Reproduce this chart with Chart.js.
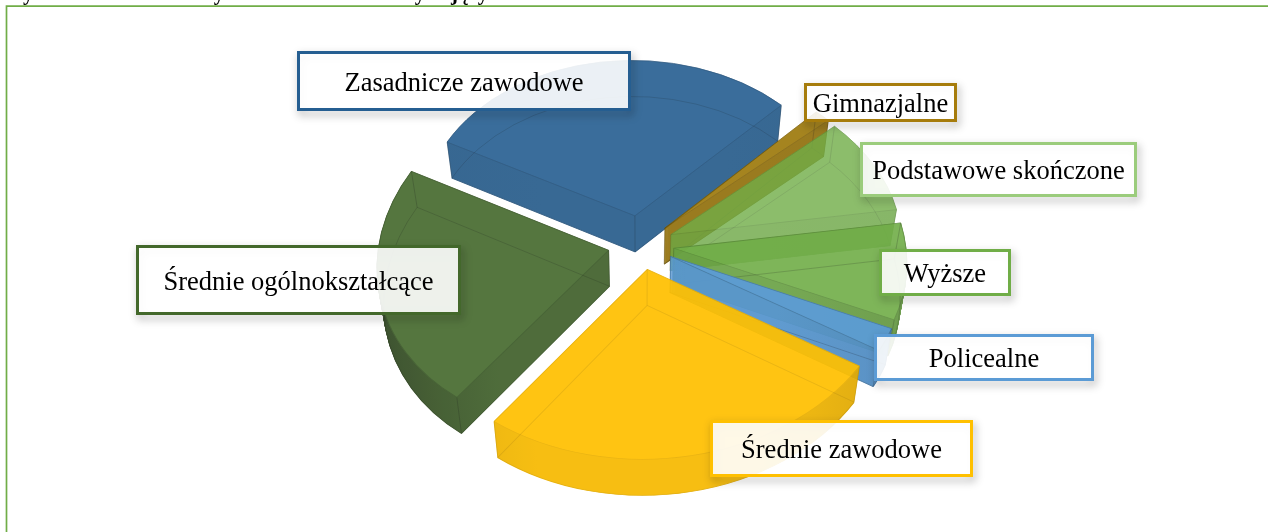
<!DOCTYPE html>
<html lang="pl">
<head>
<meta charset="utf-8">
<style>html,body{margin:0;padding:0;background:#fff;overflow:hidden}canvas{display:block}</style>
<script src="https://cdn.jsdelivr.net/npm/chart.js@4"></script>
</head>
<body>
<canvas id="c" width="1268" height="532"></canvas>
<script>
// ---- data ----
const categories = ["Zasadnicze zawodowe","Gimnazjalne","Podstawowe skończone","Wyższe","Policealne","Średnie zawodowe","Średnie ogólnokształcące"];
const shares = [29.5, 1.2, 9.15, 8.9, 2.1, 26.7, 22.4];
// ---- styles ----
const faceColors = ["#255e91","#997300","#70ad47","#70ad47","#5b9bd5","#ffc000","#43682b"];
const borderColors = ["#255e91","#a67c0c","#9bcc7c","#70ad47","#5b9bd5","#ffc000","#43682b"];
const faceAlpha = [0.9,0.88,0.8,0.9,0.95,0.93,0.9];
const wallTone = [0.95,0.92,0.97,0.93,0.97,0.97,0.9];
const wallEdgeTone = [0.93,0.9,0.95,0.85,0.9,0.86,0.62];
const lineAlpha = [0.2,0.2,0.14,0.2,0.2,0.09,0.2];
const explodeBy = [40,33,33,33,33,33,33];
const radiusBy = [0.96,1,1,1,1,1.015,1];
const paintOrder = [0,1,6,2,3,4,5];
const labelBoxes = [[297,51,334,60],[804,83,153,39],[860,142,277,55],[879,249,132,47],[874,334,220,47],[710,420,263,57],[136,245,325,70]];
const titleBits = [["W","ykształcenie",29],["osób młod","ych w ośrodku",219],["korz","ystających",420]];
const view = {cx:641, cy:245, k:0.747, D:3130, R:232, wall:36, shrink:0.025};

function project(x,y,z){
  const s = 1/(1-y/view.D);
  return [view.cx + x*s*(1-view.shrink*z), view.cy + y*view.k*s + view.wall*z];
}
function shade(hex,f){
  const n=parseInt(hex.slice(1),16);
  return `rgb(${((n>>16)&255)*f|0},${((n>>8)&255)*f|0},${(n&255)*f|0})`;
}
function sliceGeometry(arc,i){
  const mid=(arc.startAngle+arc.endAngle)/2, e=explodeBy[i], R=view.R*radiusBy[i];
  const ox=Math.cos(mid)*e, oy=Math.sin(mid)*e;
  return {pt:(a,z)=>a===null?project(ox,oy,z):project(ox+Math.cos(a)*R,oy+Math.sin(a)*R,z)};
}
function applyProjection(ctx,arc,geo,z){
  const r=arc.outerRadius,a0=arc.startAngle,a1=arc.endAngle;
  const T=geo.pt(null,z),A=geo.pt(a0,z),B=geo.pt(a1,z);
  const ux=Math.cos(a0)*r,uy=Math.sin(a0)*r,vx=Math.cos(a1)*r,vy=Math.sin(a1)*r;
  const det=ux*vy-vx*uy;
  const ax=A[0]-T[0],ay=A[1]-T[1],bx=B[0]-T[0],by=B[1]-T[1];
  const m11=(ax*vy-bx*uy)/det,m12=(bx*ux-ax*vx)/det,m21=(ay*vy-by*uy)/det,m22=(by*ux-ay*vx)/det;
  ctx.setTransform(m11,m21,m12,m22,T[0]-m11*arc.x-m12*arc.y,T[1]-m21*arc.x-m22*arc.y);
}
function drawWith(arc,ctx,over){
  const saved=arc.options;
  arc.options=Object.assign({},saved,over);
  arc.draw(ctx);
  arc.options=saved;
}

const pie3d = {
  id:'pie3d',
  beforeDatasetDraw(){ return false; },
  afterDatasetsDraw(chart){
    const main=chart.ctx, arcs=chart.getDatasetMeta(0).data;
    const off=document.createElement('canvas'); off.width=chart.width; off.height=chart.height;
    const c=off.getContext('2d');
    paintOrder.forEach(i=>{
      const arc=arcs[i], geo=sliceGeometry(arc,i), col=faceColors[i], r=arc.outerRadius;
      c.setTransform(1,0,0,1,0,0); c.clearRect(0,0,off.width,off.height);
      const g=c.createLinearGradient(arc.x-r,0,arc.x+r,0);
      g.addColorStop(0,shade(col,wallEdgeTone[i])); g.addColorStop(0.28,shade(col,wallTone[i]));
      g.addColorStop(0.72,shade(col,wallTone[i])); g.addColorStop(1,shade(col,wallEdgeTone[i]));
      for(let d=view.wall;d>0;d--){
        applyProjection(c,arc,geo,d/view.wall);
        drawWith(arc,c,{backgroundColor:g,borderColor:g,borderWidth:1.2});
      }
      const ln=`rgba(0,0,0,${lineAlpha[i]})`;
      applyProjection(c,arc,geo,0);
      drawWith(arc,c,{backgroundColor:col,borderColor:col,borderWidth:1});
      drawWith(arc,c,{backgroundColor:'rgba(0,0,0,0)',borderColor:ln,borderWidth:1});
      applyProjection(c,arc,geo,1);
      drawWith(arc,c,{backgroundColor:'rgba(0,0,0,0)',borderColor:ln,borderWidth:1});
      c.setTransform(1,0,0,1,0,0);
      c.strokeStyle=ln; c.lineWidth=1;
      [null,arc.startAngle,arc.endAngle].forEach(a=>{
        const p=geo.pt(a,0),q=geo.pt(a,1);
        c.beginPath(); c.moveTo(p[0],p[1]); c.lineTo(q[0],q[1]); c.stroke();
      });
      main.save(); main.globalAlpha=faceAlpha[i]; main.drawImage(off,0,0); main.restore();
    });
    // frame and clipped caption
    main.save();
    main.beginPath(); main.rect(0,0,chart.width,5.4); main.clip();
    main.fillStyle='#000'; main.font='bold 21px "Liberation Serif"'; main.textAlign='left'; main.textBaseline='alphabetic';
    titleBits.forEach(([head,tail,x])=>{
      const start=x-main.measureText(head).width-main.measureText('y').width/2;
      main.fillText(head+tail,start,-0.4);
    });
    main.restore();
    main.save();
    main.strokeStyle='#70ad47'; main.lineWidth=1.7;
    main.beginPath(); main.moveTo(6.5,chart.height+5); main.lineTo(6.5,6.2); main.lineTo(chart.width+5,6.2); main.stroke();
    main.restore();
    // labels
    categories.forEach((name,i)=>{
      const [x,y,w,h]=labelBoxes[i];
      main.save();
      main.shadowColor='rgba(0,0,0,0.38)'; main.shadowBlur=9; main.shadowOffsetX=2; main.shadowOffsetY=4;
      main.strokeStyle=borderColors[i]; main.lineWidth=3;
      main.strokeRect(x+1.5,y+1.5,w-3,h-3);
      main.shadowColor='transparent';
      main.fillStyle='rgba(255,255,255,0.9)';
      main.fillRect(x+3,y+3,w-6,h-6);
      main.fillStyle='#000'; main.font='26.5px "Liberation Serif"';
      main.textAlign='center'; main.textBaseline='middle';
      main.fillText(name,x+w/2,y+h/2+3);
      main.restore();
    });
  }
};

new Chart(document.getElementById('c'),{
  type:'pie',
  data:{labels:categories,datasets:[{data:shares,backgroundColor:faceColors,borderWidth:0}]},
  options:{
    responsive:false,animation:false,rotation:298,
    layout:{padding:34},
    plugins:{legend:{display:false},tooltip:{enabled:false}},
    events:[]
  },
  plugins:[pie3d]
});
</script>
</body>
</html>
